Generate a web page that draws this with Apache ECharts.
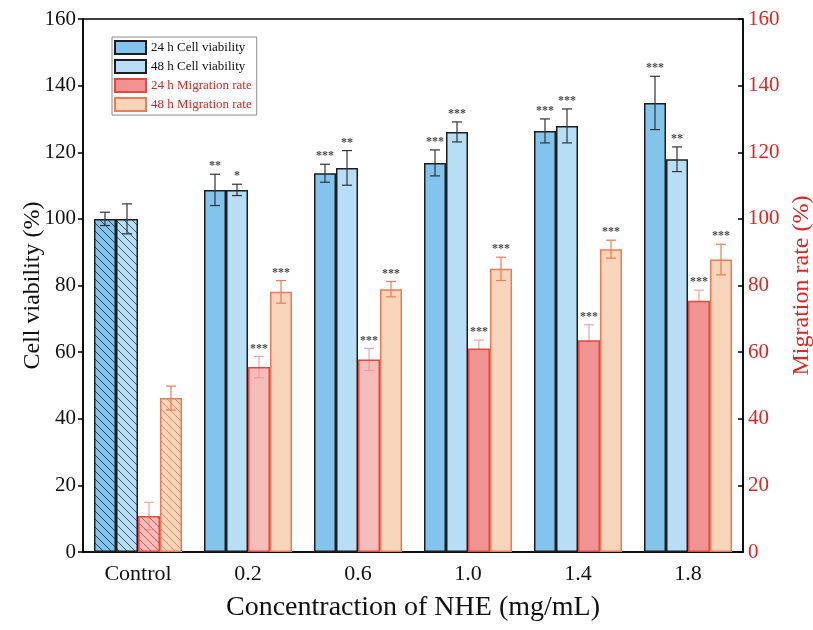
<!DOCTYPE html>
<html>
<head>
<meta charset="utf-8">
<script src="https://cdn.jsdelivr.net/npm/echarts@6/dist/echarts.min.js"></script>
<style>
  html, body { margin: 0; padding: 0; background: #fff; }
  #chart { width: 813px; height: 630px; }
</style>
</head>
<body>
<div id="chart"></div>
<script>
// Concentration groups
const categories = ['Control', '0.2', '0.6', '1.0', '1.4', '1.8'];

// Cell viability (%), mean and error
const viability24 = [100, 108.7, 113.7, 116.8, 126.4, 134.8];
const viability24Err = [2, 4.7, 2.7, 3.9, 3.6, 8];
const viability48 = [100, 108.7, 115.3, 126.1, 127.9, 117.9];
const viability48Err = [4.5, 1.7, 5.2, 3, 5.1, 3.7];

// Migration rate (%), mean and error
const migration24 = [10.8, 55.5, 57.8, 61.1, 63.6, 75.4];
const migration24Err = [4.1, 3.2, 3.3, 2.5, 4.6, 3.2];
const migration48 = [46.2, 78.1, 78.9, 85, 90.9, 87.8];
const migration48Err = [3.6, 3.4, 2.3, 3.5, 2.7, 4.6];

// Significance marks versus control
const viability24Sig = ['', '**', '***', '***', '***', '***'];
const viability48Sig = ['', '*', '**', '***', '***', '**'];
const migration24Sig = ['', '***', '***', '***', '***', '***'];
const migration48Sig = ['', '***', '***', '***', '***', '***'];

// Shared axis range for both value axes
const axisMin = 0, axisMax = 160, axisStep = 20;

const FONT = '"Liberation Serif", "Times New Roman", serif';
const RED = '#E5231F';
const BAR_W = 22;

// Diagonal hatch used for the control group
function hatch(bg, line) {
  const c = document.createElement('canvas');
  c.width = 8; c.height = 8;
  const g = c.getContext('2d');
  g.fillStyle = bg;
  g.fillRect(0, 0, 8, 8);
  g.strokeStyle = line;
  g.lineWidth = 1;
  g.beginPath();
  g.moveTo(-1, -1); g.lineTo(9, 9);
  g.moveTo(-1, 7); g.lineTo(1, 9);
  g.moveTo(7, -1); g.lineTo(9, 1);
  g.stroke();
  return { image: c, repeat: 'repeat' };
}

const styles = {
  cv24: { fill: '#83C4EC', border: '#1E1E1E', hatch: '#24465E' },
  cv48: { fill: '#B7DEF5', border: '#1E1E1E', hatch: '#3C5A6E' },
  mig24: { fill: '#EF9393', faded: 'rgba(239,147,147,0.62)', border: '#E8473C', hatch: '#E8574E' },
  mig48: { fill: '#F7D5BB', border: '#EF7A57', hatch: '#F08A62' }
};

function barSeries(name, values, yAxisIndex, st, perItem) {
  return {
    type: 'bar',
    name,
    yAxisIndex,
    barWidth: BAR_W,
    barGap: '0%',
    z: 2,
    itemStyle: { color: st.fill, borderColor: st.border, borderWidth: 1.5 },
    data: values.map((v, i) => {
      const item = { value: v };
      const col = perItem ? perItem(i) : null;
      if (col) item.itemStyle = { color: col };
      return item;
    })
  };
}

function errorSeries(values, errs, sig, yAxisIndex, slot, color, z) {
  return {
    type: 'custom',
    yAxisIndex,
    z,
    silent: true,
    data: values.map((v, i) => [i, v, errs[i]]),
    renderItem(params, api) {
      const i = api.value(0), v = api.value(1), e = api.value(2);
      const off = (slot - 1.5) * BAR_W;
      const top = api.coord([i, v + e]);
      const bot = api.coord([i, v - e]);
      const x = top[0] + off;
      const cap = 5;
      const ls = { stroke: color, lineWidth: 1.2 };
      const children = [
        { type: 'line', shape: { x1: x, y1: top[1], x2: x, y2: bot[1] }, style: ls },
        { type: 'line', shape: { x1: x - cap, y1: top[1], x2: x + cap, y2: top[1] }, style: ls },
        { type: 'line', shape: { x1: x - cap, y1: bot[1], x2: x + cap, y2: bot[1] }, style: ls }
      ];
      const s = sig[params.dataIndex];
      if (s) {
        children.push({
          type: 'text',
          style: {
            text: s, x: x, y: top[1] - 8,
            fill: '#4A4A4A', font: 'bold 12px ' + FONT,
            align: 'center', verticalAlign: 'middle'
          }
        });
      }
      return { type: 'group', children };
    }
  };
}

const names = ['24 h Cell viability', '48 h Cell viability', '24 h Migration rate', '48 h Migration rate'];

const option = {
  animation: false,
  backgroundColor: '#fff',
  textStyle: { fontFamily: FONT },
  grid: {
    left: 83, right: 70, top: 19, bottom: 78,
    outerBoundsMode: 'none',
    containLabel: false,
    show: true, borderColor: '#000', borderWidth: 1.5, backgroundColor: 'transparent'
  },
  legend: {
    orient: 'vertical',
    left: 112, top: 37,
    itemWidth: 31, itemHeight: 13, itemGap: 4,
    padding: [3, 5, 3, 2],
    borderColor: '#8A8A8A', borderWidth: 1, borderRadius: 0,
    backgroundColor: '#fff',
    icon: 'rect',
    textStyle: { fontFamily: FONT, fontSize: 13, color: '#111' },
    data: [
      { name: names[0] },
      { name: names[1] },
      { name: names[2], textStyle: { color: RED } },
      { name: names[3], textStyle: { color: RED } }
    ]
  },
  xAxis: {
    type: 'category',
    data: categories,
    axisLine: { lineStyle: { color: '#000', width: 1.5 } },
    axisTick: { show: false },
    axisLabel: { fontFamily: FONT, fontSize: 22, color: '#111', margin: 11 },
    name: 'Concentraction of NHE (mg/mL)',
    nameLocation: 'middle',
    nameGap: 42,
    nameMoveOverlap: false,
    nameTextStyle: { fontFamily: FONT, fontSize: 28, color: '#111' }
  },
  yAxis: [
    {
      type: 'value',
      min: axisMin, max: axisMax, interval: axisStep,
      position: 'left',
      axisLine: { show: true, lineStyle: { color: '#000', width: 1.5 } },
      axisTick: { show: true, inside: false, length: 5, lineStyle: { color: '#000', width: 1.5 } },
      splitLine: { show: false },
      axisLabel: { fontFamily: FONT, fontSize: 21, color: '#111', margin: 7 },
      name: 'Cell viability (%)',
      nameLocation: 'middle',
      nameRotate: 90,
      nameGap: 38,
      nameMoveOverlap: false,
      nameTextStyle: { fontFamily: FONT, fontSize: 24, color: '#111' }
    },
    {
      type: 'value',
      min: axisMin, max: axisMax, interval: axisStep,
      position: 'right',
      axisLine: { show: true, lineStyle: { color: '#000', width: 1.5 } },
      axisTick: { show: true, inside: true, length: 5, lineStyle: { color: '#000', width: 1.5 } },
      splitLine: { show: false },
      axisLabel: { fontFamily: FONT, fontSize: 21, color: RED, margin: 5 },
      name: 'Migration rate (%)',
      nameLocation: 'middle',
      nameRotate: 90,
      nameGap: 47,
      nameMoveOverlap: false,
      nameTextStyle: { fontFamily: FONT, fontSize: 24, color: RED }
    }
  ],
  series: [
    barSeries(names[0], viability24, 0, styles.cv24,
      i => i === 0 ? hatch(styles.cv24.fill, styles.cv24.hatch) : null),
    barSeries(names[1], viability48, 0, styles.cv48,
      i => i === 0 ? hatch(styles.cv48.fill, styles.cv48.hatch) : null),
    barSeries(names[2], migration24, 1, styles.mig24,
      i => i === 0 ? hatch(styles.mig24.faded, styles.mig24.hatch) : (i < 3 ? styles.mig24.faded : null)),
    barSeries(names[3], migration48, 1, styles.mig48,
      i => i === 0 ? hatch(styles.mig48.fill, styles.mig48.hatch) : null),
    errorSeries(viability24, viability24Err, viability24Sig, 0, 0, '#333', 3),
    errorSeries(viability48, viability48Err, viability48Sig, 0, 1, '#333', 3),
    errorSeries(migration24, migration24Err, migration24Sig, 1, 2, '#F5A3A3', 1),
    errorSeries(migration48, migration48Err, migration48Sig, 1, 3, '#EE7B55', 3)
  ]
};

const chart = echarts.init(document.getElementById('chart'), null, { renderer: 'canvas' });
chart.setOption(option);
</script>
</body>
</html>
